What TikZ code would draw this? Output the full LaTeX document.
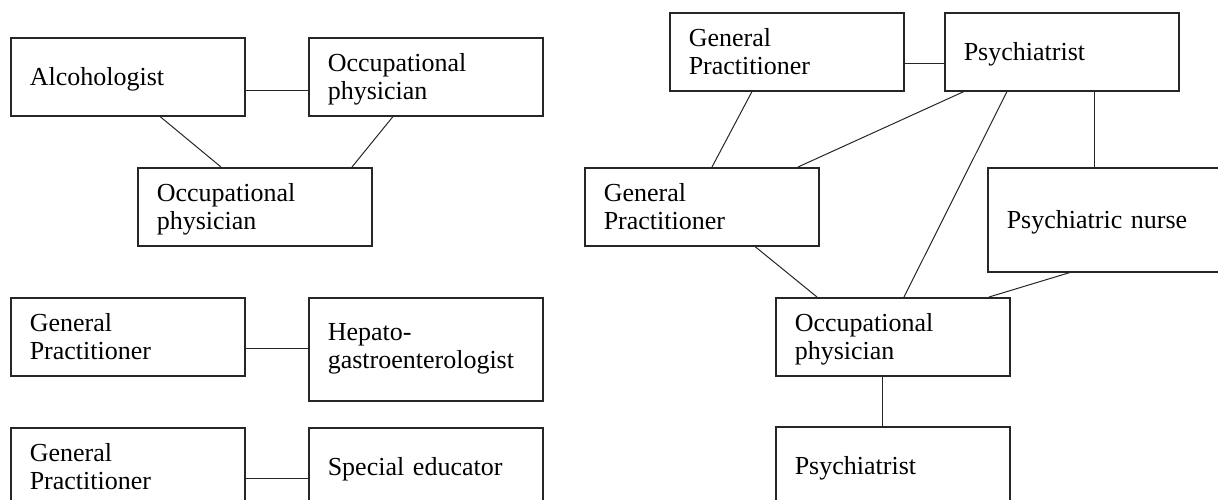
\documentclass[tikz,border=0pt]{standalone}
\usepackage{fontspec}
\setmainfont{Liberation Serif}
\begin{document}
\begin{tikzpicture}[x=1pt,y=-1pt,
  box/.style={draw=black!85, line width=1.5pt, rectangle, anchor=north west,
    inner xsep=19pt, inner ysep=0pt, text width=196pt, align=left,
    minimum height=78pt, font=\fontsize{26}{28}\selectfont},
  oneline/.style={box, text depth=0pt},
  twoline/.style={box, text depth=28pt},
  link/.style={draw=black!85, line width=1pt}]
\useasboundingbox (0,0) rectangle (1218,499);
\clip (0,0) rectangle (1218,499);

% left column: three small teams
\node[oneline] (alc)  at (10,37)   {Alcohologist};
\node[twoline] (occA) at (308,37)  {Occupational\\physician};
\node[twoline] (occB) at (137,167) {Occupational\\physician};

\node[box] (gpA)  at (10,297)  {General\\Practitioner};
\node[box, minimum height=103pt] (hep) at (308,297) {Hepato-\\gastroenterologist};

\node[box] (gpB)  at (10,427)  {General\\Practitioner};
\node[oneline] (spe)  at (308,427) {Special educator};

\draw[link] ([yshift=-53pt]alc.north east) -- ([yshift=-53pt]occA.north west);
\draw[link] ([xshift=150pt]alc.south west) -- ([xshift=84pt]occB.north west);
\draw[link] ([xshift=85pt]occA.south west) -- ([xshift=215pt]occB.north west);
\draw[link] ([yshift=-51pt]gpA.north east) -- ([yshift=-51pt]hep.north west);
\draw[link] ([yshift=-51pt]gpB.north east) -- ([yshift=-51pt]spe.north west);

% right side: the larger network
\node[box] (gpT)  at (669,12)  {General\\Practitioner};
\node[oneline] (psyT) at (944,12)  {Psychiatrist};
\node[box] (gpM)  at (584,167) {General\\Practitioner};
\node[oneline, minimum height=104pt] (nur) at (987,167) {Psychiatric nurse};
\node[twoline] (occR) at (775,297) {Occupational\\physician};
\node[oneline] (psyB) at (775,426) {Psychiatrist};

\draw[link] ([yshift=-51pt]gpT.north east) -- ([yshift=-51pt]psyT.north west);
\draw[link] ([xshift=83pt]gpT.south west)  -- ([xshift=128pt]gpM.north west);
\draw[link] ([xshift=20pt]psyT.south west) -- ([xshift=214pt]gpM.north west);
\draw[link] ([xshift=63pt]psyT.south west) -- ([xshift=129pt]occR.north west);
\draw[link] ([xshift=150pt]psyT.south west) -- ([xshift=107pt]nur.north west);
\draw[link] ([xshift=171pt]gpM.south west) -- ([xshift=42pt]occR.north west);
\draw[link] ([xshift=83pt]nur.south west)  -- ([xshift=214pt]occR.north west);
\draw[link] ([xshift=107pt]occR.south west) -- ([xshift=107pt]psyB.north west);
\end{tikzpicture}
\end{document}
